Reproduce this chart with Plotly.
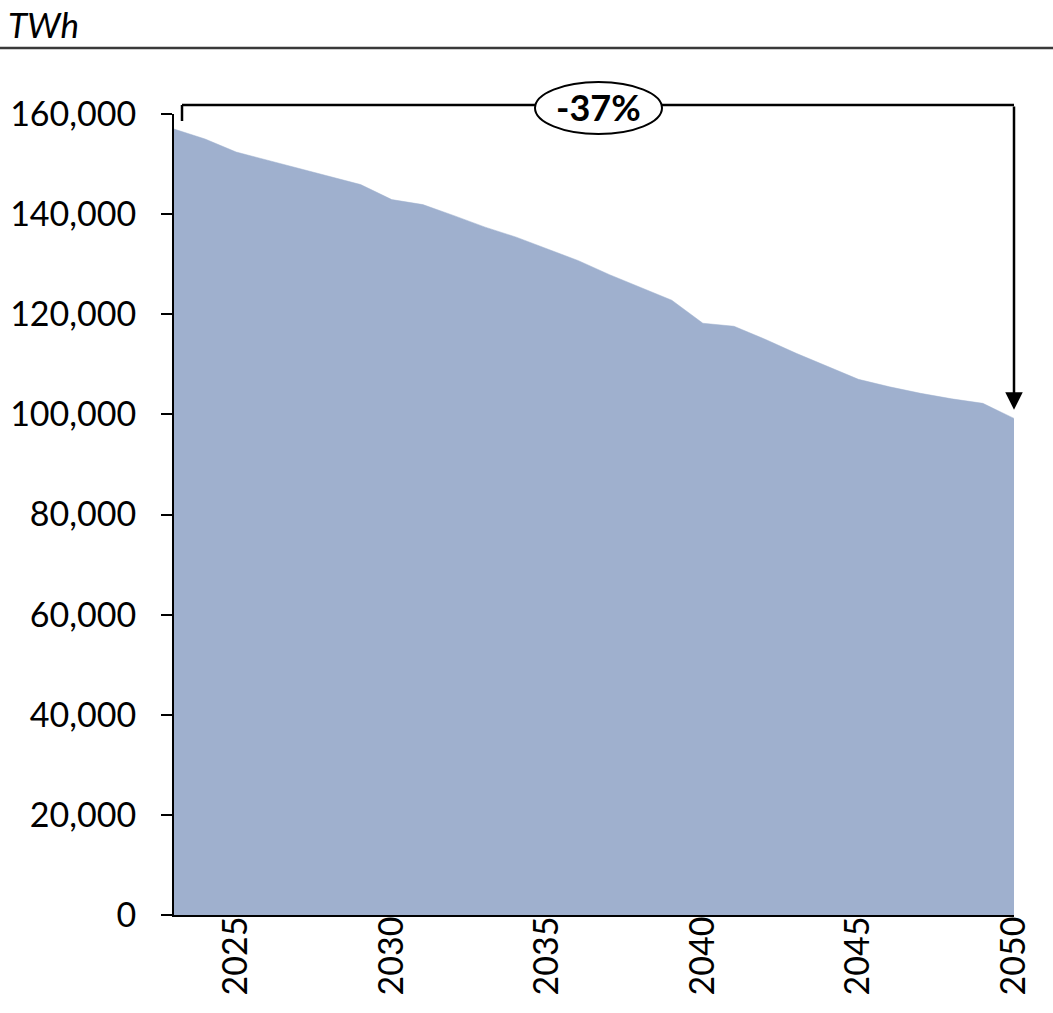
import plotly.graph_objects as go

# Annual demand, TWh
years = list(range(2023, 2051))
demand = [157000, 155000, 152400, 150800, 149200, 147600, 145900, 142900,
          141900, 139700, 137400, 135400, 133100, 130700, 127900, 125400,
          122800, 118200, 117600, 115000, 112200, 109600, 107000, 105500,
          104200, 103100, 102200, 99200]
y_ticks = [0, 20000, 40000, 60000, 80000, 100000, 120000, 140000, 160000]
x_ticks = [2025, 2030, 2035, 2040, 2045, 2050]
unit_label = "TWh"

FILL = "#9fb0ce"
FONT = "Lato"
TICK_SIZE = 34

change_pct = round((demand[-1] / demand[0] - 1) * 100)

fig = go.Figure()
fig.add_trace(go.Scatter(
    x=years, y=demand, mode="lines", fill="tozeroy",
    fillcolor=FILL, line=dict(color=FILL, width=0.5),
    hoverinfo="x+y", showlegend=False,
))

W, H = 1053, 1013
L, R, T, B = 174, 39, 114, 98
pw, ph = W - L - R, H - T - B


def px_x(px):
    return (px - L) / pw


def px_y(py):
    return (H - B - py) / ph


line_y = px_y(105)
tip_value = demand[-1] + 1700
shapes = [
    # rule under the unit label
    dict(type="line", xref="paper", yref="paper", x0=px_x(0), x1=px_x(W),
         y0=px_y(48), y1=px_y(48), line=dict(color="#3a3a3a", width=2.5)),
    # bracket from start value across the top
    dict(type="line", xref="paper", yref="paper", x0=px_x(182), x1=px_x(182),
         y0=line_y, y1=px_y(121), line=dict(color="black", width=2.5)),
    dict(type="line", xref="paper", yref="paper", x0=px_x(182), x1=1.0,
         y0=line_y, y1=line_y, line=dict(color="black", width=2.5)),
    # ellipse holding the change label
    dict(type="circle", xref="paper", yref="paper",
         x0=px_x(535), x1=px_x(662), y0=px_y(134), y1=px_y(82),
         fillcolor="white", line=dict(color="black", width=2), layer="above"),
]

annotations = [
    dict(text=f"<b>{change_pct}%</b>", xref="paper", yref="paper",
         x=px_x(598.5), y=px_y(107), xanchor="center", yanchor="middle",
         showarrow=False, font=dict(family=FONT, size=36, color="black")),
    dict(text=f"<i>{unit_label}</i>", xref="paper", yref="paper",
         x=px_x(6), y=px_y(24), xanchor="left", yanchor="middle",
         showarrow=False, font=dict(family=FONT, size=35, color="black")),
    # arrow down to the final value
    dict(text="", x=years[-1], y=tip_value, xref="x", yref="y",
         ax=0, ay=-(line_y - tip_value / 160000) * ph,
         axref="pixel", ayref="pixel",
         showarrow=True, arrowhead=2, arrowsize=1.4, arrowwidth=2.5,
         arrowcolor="black", standoff=0),
]

fig.update_layout(
    width=W, height=H,
    margin=dict(l=L, r=R, t=T, b=B, pad=0),
    paper_bgcolor="white", plot_bgcolor="white",
    font=dict(family=FONT, size=TICK_SIZE, color="black"),
    shapes=shapes, annotations=annotations,
    xaxis=dict(
        range=[years[0], years[-1]], tickvals=x_ticks,
        ticktext=[str(v) for v in x_ticks], tickangle=-90,
        showgrid=False, zeroline=False, showline=True,
        linecolor="black", linewidth=2, ticks="",
        ticklabelstandoff=-14, automargin=False,
        tickfont=dict(family=FONT, size=TICK_SIZE, color="black"),
    ),
    yaxis=dict(
        range=[0, 160000], tickvals=y_ticks,
        ticktext=[f"{v:,}" for v in y_ticks],
        showgrid=False, zeroline=False, showline=True,
        linecolor="black", linewidth=2, ticks="outside", ticklen=11,
        tickwidth=2, tickcolor="black", ticklabelstandoff=18,
        automargin=False,
        tickfont=dict(family=FONT, size=TICK_SIZE, color="black"),
    ),
)

fig.write_html("out.html")
